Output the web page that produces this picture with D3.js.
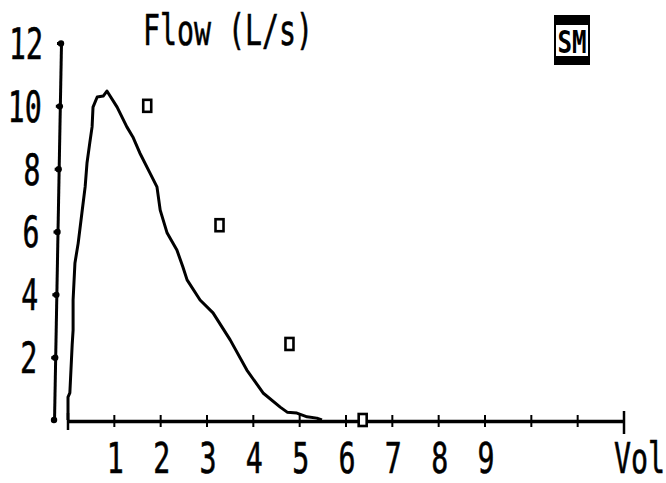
<!DOCTYPE html>
<html><head><meta charset="utf-8">
<script src="https://cdn.jsdelivr.net/npm/d3@7"></script>
<style>body{margin:0;background:#fff}svg{display:block;background:#fff}</style>
</head><body>
<svg id="c" width="666" height="483"></svg>
<script>
// Measured flow-volume curve (Vol in L, Flow in L/s)
const volume = [0, 0, 0.04, 0.09, 0.11, 0.11, 0.15, 0.22, 0.30, 0.37, 0.41, 0.47, 0.52, 0.54, 0.63, 0.76, 0.84,
  1.06, 1.27, 1.40, 1.55, 1.77, 1.92, 1.99, 2.14, 2.35, 2.48, 2.57, 2.85, 3.13, 3.50, 3.86, 4.21, 4.58, 4.73, 4.94, 5.16, 5.37, 5.48];
const flow = [0, 0.73, 0.86, 2.39, 2.86, 3.82, 5.0, 5.63, 6.59, 7.42, 8.18, 8.82, 9.33, 9.96, 10.28, 10.31, 10.47,
  9.96, 9.33, 9.01, 8.50, 7.86, 7.42, 6.68, 5.95, 5.41, 4.87, 4.46, 3.82, 3.41, 2.55, 1.59, 0.86, 0.41, 0.25, 0.22, 0.10, 0.06, 0];
// Predicted values (square markers)
const predVolume = [1.71, 3.27, 4.78, 6.36];
const predFlow = [10.0, 6.2, 2.42, 0];
// Axes
const yTicks = [2, 4, 6, 8, 10, 12];
const xLabels = [1, 2, 3, 4, 5, 6, 7, 8, 9];
const xTickMarks = [1, 2, 3, 4, 5, 6, 7, 8, 9, 10, 11];
const xMax = 12, yMax = 12;
const titleText = "Flow (L/s)";
const xTitleText = "Vol";
const badgeText = "SM";

const svg = d3.select("#c");
const FONT = "'DejaVu Sans Mono', 'Liberation Mono', monospace";
const FS = 43, SX = 0.657;
const FSX = 42, SXX = 0.673;
const ink = "#000";

const x = d3.scaleLinear().domain([0, xMax]).range([68, 624]);
const y = d3.scaleLinear().domain([0, yMax]).range([420, 43]);

// ---- Y axis (slightly slanted, as printed)
const gy = svg.append("g").attr("transform", "translate(61.8,0) skewX(-1.06)");
gy.call(d3.axisLeft(y).tickValues(yTicks).tickSize(4).tickSizeOuter(0).tickPadding(14));
gy.select(".domain").attr("stroke", ink).attr("stroke-width", 3);
gy.selectAll(".tick line").attr("stroke", ink).attr("stroke-width", 3);
gy.selectAll(".tick").append("circle").attr("r", 3.2).attr("fill", ink);
gy.append("circle").attr("cx", 0).attr("cy", y(0)).attr("r", 3.2).attr("fill", ink);
gy.selectAll(".tick text").each(function() {
  const t = d3.select(this);
  const xx = +t.attr("x");
  t.attr("x", null).attr("dy", "0.36em")
   .attr("transform", `translate(${xx},0) scale(${SX},1)`)
   .attr("font-family", FONT).attr("font-size", FS).attr("fill", ink)
   .attr("stroke", ink).attr("stroke-width", 0.6)
   .attr("text-anchor", "end");
});

// ---- X axis
const gx = svg.append("g").attr("transform", `translate(0,${y(0) + 1})`);
gx.call(d3.axisBottom(x).tickValues(xTickMarks).tickSize(0).tickSizeOuter(0).tickFormat(""));
gx.select(".domain").attr("stroke", ink).attr("stroke-width", 3.5);
gx.selectAll(".tm").data(xTickMarks).join("line").attr("class", "tm")
  .attr("x1", d => x(d)).attr("x2", d => x(d)).attr("y1", -6).attr("y2", 6)
  .attr("stroke", ink).attr("stroke-width", 2);
gx.selectAll(".end").data([0, xMax]).join("line").attr("class", "end")
  .attr("x1", d => x(d)).attr("x2", d => x(d))
  .attr("y1", (d, i) => i ? -10 : -8).attr("y2", (d, i) => i ? 13 : 9)
  .attr("stroke", ink).attr("stroke-width", 2.5);

svg.selectAll(".xl").data(xLabels).join("text").attr("class", "xl")
  .attr("transform", d => `translate(${x(d) + 1},473) scale(${SXX},1)`)
  .attr("text-anchor", "middle")
  .attr("font-family", FONT).attr("font-size", FSX).attr("fill", ink)
  .attr("stroke", ink).attr("stroke-width", 0.6)
  .text(d => d);

svg.append("text")
  .attr("transform", `translate(614,473) scale(${SXX},1)`)
  .attr("font-family", FONT).attr("font-size", FSX).attr("fill", ink)
  .attr("stroke", ink).attr("stroke-width", 0.6)
  .text(xTitleText);

// ---- Title
svg.append("text")
  .attr("transform", `translate(228,45) scale(${SX},1)`)
  .attr("text-anchor", "middle")
  .attr("font-family", FONT).attr("font-size", FS).attr("fill", ink)
  .attr("stroke", ink).attr("stroke-width", 0.6)
  .text(titleText);

// ---- Badge
const gb = svg.append("g");
gb.append("rect").attr("x", 555).attr("y", 16).attr("width", 34).attr("height", 48)
  .attr("fill", "none").attr("stroke", ink).attr("stroke-width", 2);
gb.append("rect").attr("x", 555).attr("y", 16).attr("width", 34).attr("height", 9).attr("fill", ink);
gb.append("rect").attr("x", 555).attr("y", 56).attr("width", 34).attr("height", 8).attr("fill", ink);
gb.append("text")
  .attr("transform", `translate(572,53) scale(0.78,1.05)`)
  .attr("text-anchor", "middle")
  .attr("font-family", FONT).attr("font-size", 31).attr("font-weight", "bold").attr("fill", ink)
  .text(badgeText);

// ---- Curve
const pts = volume.map((v, i) => [v, flow[i]]);
svg.append("path").datum(pts)
  .attr("d", d3.line().x(d => x(d[0])).y(d => y(d[1])).curve(d3.curveLinear))
  .attr("fill", "none").attr("stroke", ink).attr("stroke-width", 3)
  .attr("stroke-linejoin", "round");

// ---- Predicted markers
svg.selectAll(".pm").data(predVolume.map((v, i) => [v, predFlow[i]])).join("rect").attr("class", "pm")
  .attr("x", d => x(d[0]) - 4).attr("y", d => y(d[1]) - 6)
  .attr("width", 8).attr("height", 12)
  .attr("fill", "#fff").attr("stroke", ink).attr("stroke-width", 2.6);
</script>
</body></html>
